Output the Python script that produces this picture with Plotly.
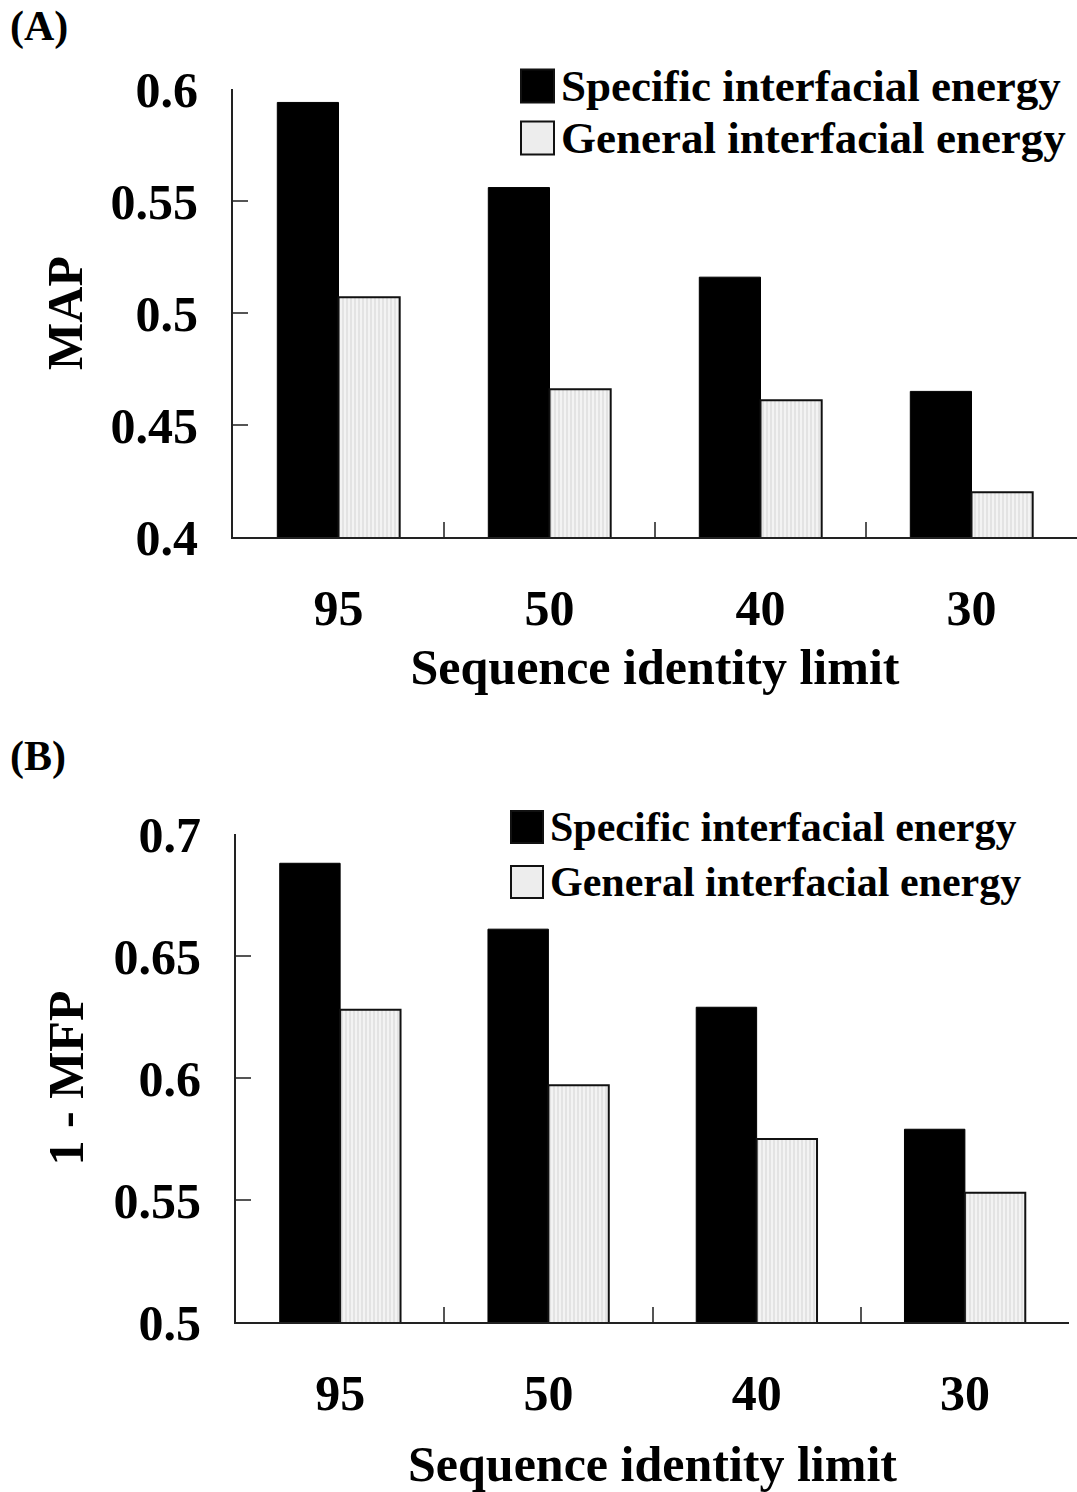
import plotly.graph_objects as go

W, H = 1077, 1492

categories = ["95", "50", "40", "30"]
series_names = ["Specific interfacial energy", "General interfacial energy"]
map_specific = [0.594, 0.556, 0.516, 0.465]
map_general = [0.507, 0.466, 0.461, 0.420]
mfp_specific = [0.688, 0.661, 0.629, 0.579]
mfp_general = [0.628, 0.597, 0.575, 0.553]
map_ticks = [0.4, 0.45, 0.5, 0.55, 0.6]
map_ticktext = ["0.4", "0.45", "0.5", "0.55", "0.6"]
mfp_ticks = [0.5, 0.55, 0.6, 0.65, 0.7]
mfp_ticktext = ["0.5", "0.55", "0.6", "0.65", "0.7"]

FONT = "Liberation Serif"
BLACK_FILL = "#000000"
GRAY_FILL = "#ededed"

def px_x(x):
    return x / W

def px_y(y):
    return 1 - y / H

fig = go.Figure()

def add_bars(xa, ya, spec, gen):
    fig.add_trace(go.Bar(
        x=categories, y=spec, name=series_names[0], xaxis=xa, yaxis=ya,
        marker=dict(color=BLACK_FILL, line=dict(color="black", width=1)),
        showlegend=False))
    fig.add_trace(go.Bar(
        x=categories, y=gen, name=series_names[1], xaxis=xa, yaxis=ya,
        marker=dict(color=GRAY_FILL, line=dict(color="#111111", width=2),
                    pattern=dict(shape="|", fgcolor="#d9d9d9", bgcolor="#f3f3f3",
                                 size=4, solidity=0.3, fillmode="replace")),
        showlegend=False))

add_bars("x", "y", map_specific, map_general)
add_bars("x2", "y2", mfp_specific, mfp_general)

tick_font = dict(family=FONT, size=50, color="black", weight="bold")
title_font = dict(family=FONT, size=50, color="black", weight="bold")

common_x = dict(type="category", range=[-0.5, 3.5], showline=True, linecolor="#222222",
                linewidth=2, ticks="inside", tickson="boundaries", ticklen=15,
                tickcolor="#555555", tickwidth=2, tickfont=tick_font, automargin=False,
                ticklabelstandoff=26, showgrid=False, zeroline=False, fixedrange=True)
common_y = dict(showline=True, linecolor="#222222", linewidth=2, ticks="inside",
                ticklen=15, tickcolor="#555555", tickwidth=2, tickfont=tick_font, automargin=False,
                ticklabelstandoff=23, showgrid=False, zeroline=False, fixedrange=True)

fig.update_layout(
    width=W, height=H, margin=dict(l=0, r=0, t=0, b=0, autoexpand=False),
    paper_bgcolor="white", plot_bgcolor="white",
    barmode="group", bargap=0.42, bargroupgap=0,
    xaxis=dict(**common_x, domain=[px_x(233), px_x(1077)], anchor="y",
               title=dict(text="Sequence identity limit", font=title_font, standoff=14)),
    yaxis=dict(**common_y, domain=[px_y(537), px_y(89)], anchor="x",
               range=[0.4, 0.6], tickvals=map_ticks, ticktext=map_ticktext,
               title=dict(text="MAP", font=title_font, standoff=12)),
    xaxis2=dict(**common_x, domain=[px_x(236), px_x(1069)], anchor="y2",
                title=dict(text="Sequence identity limit", font=title_font, standoff=34)),
    yaxis2=dict(**common_y, domain=[px_y(1322), px_y(834)], anchor="x2",
                range=[0.5, 0.7], tickvals=mfp_ticks, ticktext=mfp_ticktext,
                title=dict(text="1 - MFP", font=title_font, standoff=14)),
)

# Panel labels
for label, y in [("(A)", 27), ("(B)", 756)]:
    fig.add_annotation(text=label, x=px_x(8), y=px_y(y), xref="paper", yref="paper",
                       xanchor="left", yanchor="middle", showarrow=False,
                       font=dict(family=FONT, size=42, color="black", weight="bold"))

# Manual legends
def legend(x0, size, ys, fsize):
    fills = [BLACK_FILL, GRAY_FILL]
    for name, fill, yc in zip(series_names, fills, ys):
        fig.add_shape(type="rect", xref="paper", yref="paper",
                      x0=px_x(x0), x1=px_x(x0 + size),
                      y0=px_y(yc + size / 2), y1=px_y(yc - size / 2),
                      fillcolor=fill, line=dict(color="#111111", width=2))
        fig.add_annotation(text=name, x=px_x(x0 + size + 5), y=px_y(yc), xref="paper", yref="paper",
                           xanchor="left", yanchor="middle", showarrow=False,
                           font=dict(family=FONT, size=fsize, color="black", weight="bold"))

legend(521, 33, [86, 138], 45)
legend(511, 32, [827, 882], 42)

fig.write_html("out.html")
